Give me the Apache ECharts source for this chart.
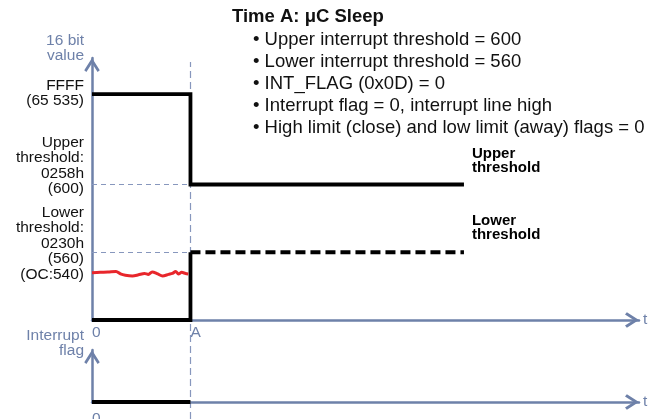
<!DOCTYPE html>
<html>
<head>
<meta charset="utf-8">
<script src="https://cdn.jsdelivr.net/npm/echarts@6/dist/echarts.min.js"></script>
<style>
html,body{margin:0;padding:0;background:#fff;}
#chart{width:656px;height:419px;}
</style>
</head>
<body>
<div id="chart"></div>
<script>
// ---------- data (schematic units) ----------
const titleText = 'Time A: μC Sleep';
const bulletLines = [
  'Upper interrupt threshold = 600',
  'Lower interrupt threshold = 560',
  'INT_FLAG (0x0D) = 0',
  'Interrupt flag = 0, interrupt line high',
  'High limit (close) and low limit (away) flags = 0'
];
// time axis (0..100), event A and end of drawn levels
const timeTicks = [0, 18];
const timeTickLabels = ['0', 'A'];
const timeEnd = 68;
// 16-bit value levels on a schematic scale
const levelFull = 10;     // FFFF (65 535)
const levelUpper = 6;     // 0258h (600)
const levelLower = 3;     // 0230h (560)
const levelLabels = [
  'FFFF\n(65 535)',
  'Upper\nthreshold:\n0258h\n(600)',
  'Lower\nthreshold:\n0230h\n(560)\n(OC:540)'
];
// measured offset-compensated reading before A (noisy, around OC:540)
const noiseT = [0, 1.5, 2.9, 4.4, 5.2, 6.1, 7.4, 8.5, 9.6, 10.3, 11.0, 12.0, 12.9, 14.0, 14.7, 15.3, 15.8, 16.4, 17.1, 17.6];
const noiseV = [2.09, 2.11, 2.12, 2.15, 2.04, 1.98, 1.95, 2.0, 2.06, 2.02, 2.13, 2.04, 1.95, 2.02, 2.06, 2.15, 2.04, 2.11, 2.06, 2.04];
// interrupt flag
const flagT = [0, 18];
const flagV = [0, 0];

// ---------- styling ----------
const AX = '#6e81a9';
const GUIDE = '#8797bd';
const FONT = "'Liberation Sans', Arial, Helvetica, sans-serif";
const ARROW = 'path://M50 0 L100 78 L86 90 L50 34 L14 90 L0 78 Z';
const tA = timeTicks[1];

const upperData = [[0, levelFull], [tA, levelFull], [tA, levelUpper], [timeEnd, levelUpper]];
const lowerSolid = [[0, 0], [tA, 0], [tA, levelLower]];
const lowerDashed = [[tA, levelLower], [timeEnd, levelLower]];
const noiseData = noiseT.map((t, i) => [t, noiseV[i]]);
const flagData = flagT.map((t, i) => [t, flagV[i]]);

const levelLabelOffsets = [[0, -1], [0, -19], [0, -9]];
const levelMarks = [levelFull, levelUpper, levelLower].map((lv, i) => ({
  coord: [0, lv],
  label: { formatter: levelLabels[i], offset: levelLabelOffsets[i] }
}));

const axisLineCommon = {
  show: true,
  lineStyle: { color: AX, width: 2.5 },
  symbol: ['none', ARROW],
  symbolSize: [16, 14],
  symbolOffset: [0, -7]
};

const chart = echarts.init(document.getElementById('chart'), null, { renderer: 'canvas' });
const option = {
  animation: false,
  backgroundColor: '#ffffff',
  textStyle: { fontFamily: FONT },
  title: [
    { text: titleText, left: 232, top: 6, padding: 0,
      textStyle: { fontFamily: FONT, fontSize: 18.5, fontWeight: 'bold', color: '#111', lineHeight: 22 } },
    { text: bulletLines.map(s => '• ' + s).join('\n'), left: 253, top: 29, padding: 0,
      textStyle: { fontFamily: FONT, fontSize: 18.5, fontWeight: 'normal', color: '#111', lineHeight: 22 } }
  ],
  grid: [
    { left: 92, right: 17, top: 58, height: 262, outerBoundsMode: 'none', containLabel: false },
    { left: 92, right: 17, top: 350, height: 52, outerBoundsMode: 'none', containLabel: false },
    { left: 92, right: 17, top: 62, bottom: 0, outerBoundsMode: 'none', containLabel: false }
  ],
  xAxis: [
    { gridIndex: 0, type: 'value', min: 0, max: 100,
      axisLine: axisLineCommon, axisTick: { show: false }, splitLine: { show: false },
      axisLabel: { customValues: timeTicks,
        formatter: v => timeTickLabels[Math.abs(v - timeTicks[0]) < 1e-6 ? 0 : 1],
        showMinLabel: true, showMaxLabel: true,
        color: AX, fontSize: 15.5, align: 'left', margin: 5, fontFamily: FONT },
      name: 't', nameLocation: 'end', nameGap: 4,
      nameTextStyle: { color: AX, fontSize: 15.5, verticalAlign: 'middle', fontFamily: FONT } },
    { gridIndex: 1, type: 'value', min: 0, max: 100,
      axisLine: axisLineCommon, axisTick: { show: false }, splitLine: { show: false },
      axisLabel: { customValues: [timeTicks[0]], formatter: () => timeTickLabels[0],
        showMinLabel: true, showMaxLabel: true,
        color: AX, fontSize: 15.5, align: 'left', margin: 9, fontFamily: FONT },
      name: 't', nameLocation: 'end', nameGap: 4,
      nameTextStyle: { color: AX, fontSize: 15.5, verticalAlign: 'middle', fontFamily: FONT } },
    { gridIndex: 2, type: 'value', min: 0, max: 100, show: false }
  ],
  yAxis: [
    { gridIndex: 0, type: 'value', min: 0, max: 11.6,
      axisLine: axisLineCommon, axisTick: { show: false }, splitLine: { show: false },
      axisLabel: { show: false },
      name: '16 bit\nvalue', nameLocation: 'end', nameGap: 10,
      nameTextStyle: { color: AX, fontSize: 15.5, lineHeight: 15, align: 'right', verticalAlign: 'middle',
        padding: [0, 8, 0, 0], fontFamily: FONT } },
    { gridIndex: 1, type: 'value', min: 0, max: 1,
      axisLine: axisLineCommon, axisTick: { show: false }, splitLine: { show: false },
      axisLabel: { show: false },
      name: 'Interrupt\nflag', nameLocation: 'end', nameGap: 7,
      nameTextStyle: { color: AX, fontSize: 15.5, lineHeight: 15, align: 'right', verticalAlign: 'middle',
        padding: [0, 8, 0, 0], fontFamily: FONT } },
    { gridIndex: 2, type: 'value', min: 0, max: 1, show: false }
  ],
  series: [
    { type: 'line', xAxisIndex: 2, yAxisIndex: 2, data: [[tA, 0]], showSymbol: false, silent: true,
      z: 1, lineStyle: { opacity: 0 },
      markLine: { silent: true, z: 1, symbol: 'none', label: { show: false },
        lineStyle: { color: GUIDE, width: 1.2, type: [7, 4] },
        data: [{ xAxis: tA }] } },
    { type: 'line', xAxisIndex: 0, yAxisIndex: 0, data: upperData, showSymbol: false, clip: false,
      z: 3, lineStyle: { color: '#000', width: 3.8, join: 'miter', cap: 'butt' },
      markLine: { silent: true, z: 1, symbol: 'none', label: { show: false },
        lineStyle: { color: GUIDE, width: 1.2, type: [5, 4] },
        data: [
          [{ coord: [0, levelUpper] }, { coord: [tA, levelUpper] }],
          [{ coord: [0, levelLower] }, { coord: [tA, levelLower] }]
        ] },
      markPoint: { silent: true, symbol: 'circle', symbolSize: 1,
        itemStyle: { color: 'rgba(0,0,0,0)' },
        label: { show: true, position: 'left', distance: 7.5, color: '#111', fontSize: 15.5,
          lineHeight: 15.5, fontFamily: FONT, align: 'right' },
        data: levelMarks },
      endLabel: { show: true, formatter: 'Upper\nthreshold', color: '#000', fontWeight: 'bold',
        fontSize: 15, lineHeight: 14.5, offset: [0, -23.5], fontFamily: FONT } },
    { type: 'line', xAxisIndex: 0, yAxisIndex: 0, data: lowerSolid, showSymbol: false, clip: false,
      z: 3, lineStyle: { color: '#000', width: 3.8, join: 'miter', cap: 'butt' } },
    { type: 'line', xAxisIndex: 0, yAxisIndex: 0, data: lowerDashed, showSymbol: false, clip: false,
      z: 3, lineStyle: { color: '#000', width: 3.8, type: [10, 5] },
      endLabel: { show: true, formatter: 'Lower\nthreshold', color: '#000', fontWeight: 'bold',
        fontSize: 15, lineHeight: 14.5, offset: [0, -24.5], fontFamily: FONT } },
    { type: 'line', xAxisIndex: 0, yAxisIndex: 0, data: noiseData, showSymbol: false, smooth: 0.3,
      z: 3, lineStyle: { color: '#e8262b', width: 3 } },
    { type: 'line', xAxisIndex: 1, yAxisIndex: 1, data: flagData, showSymbol: false, clip: false,
      z: 3, lineStyle: { color: '#000', width: 4 } }
  ]
};
chart.setOption(option);
</script>
</body>
</html>
